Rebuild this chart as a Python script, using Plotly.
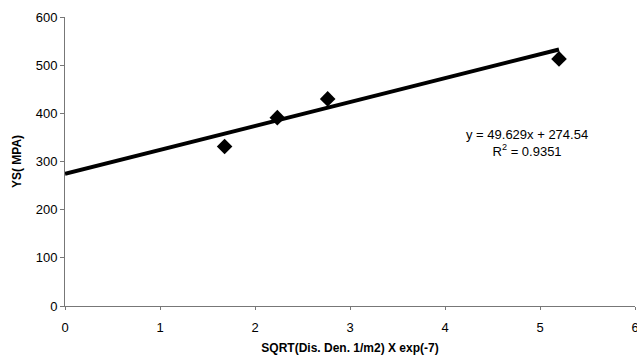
import plotly.graph_objects as go

x_vals = [1.68, 2.235, 2.765, 5.2]
y_vals = [331, 391, 430, 513]
slope = 49.629
intercept = 274.54
r2 = 0.9351
trend_x = [0, 5.2]
trend_y = [slope * v + intercept for v in trend_x]

x_ticks = [0, 1, 2, 3, 4, 5, 6]
y_ticks = [0, 100, 200, 300, 400, 500, 600]

fig = go.Figure()
fig.add_trace(go.Scatter(x=trend_x, y=trend_y, mode="lines",
                         line=dict(color="black", width=4), showlegend=False, cliponaxis=False))
fig.add_trace(go.Scatter(x=x_vals, y=y_vals, mode="markers",
                         marker=dict(symbol="diamond", size=12, color="black"),
                         showlegend=False, cliponaxis=False))

fig.add_annotation(x=4.86, y=338, xref="x", yref="y",
                   text=f"y = {slope}x + {intercept}<br>R<sup>2</sup> = {r2}",
                   showarrow=False, align="center",
                   font=dict(family="Liberation Sans, Arial", size=13, color="black"))

fig.update_layout(
    width=637, height=356,
    margin=dict(l=65, r=2, t=17, b=50),
    paper_bgcolor="white", plot_bgcolor="white",
    font=dict(family="Liberation Sans, Arial", color="black"),
    xaxis=dict(range=[0, 6], tickvals=x_ticks, showgrid=False, zeroline=False,
               automargin=False, ticklabeloverflow="allow", ticklabelstandoff=6,
               showline=True, linecolor="#777", linewidth=1,
               ticks="outside", ticklen=3, tickcolor="#777",
               tickfont=dict(size=13),
               title=dict(text="<b>SQRT(Dis. Den. 1/m2) X exp(-7)</b>", font=dict(size=12), standoff=10)),
    yaxis=dict(range=[0, 600], tickvals=y_ticks, showgrid=False, zeroline=False,
               automargin=False,
               showline=True, linecolor="#777", linewidth=1,
               ticks="outside", ticklen=4, tickcolor="#777",
               tickfont=dict(size=13),
               title=dict(text="<b>YS( MPA)</b>", font=dict(size=12), standoff=11)),
)

fig.write_html("out.html", config={"displayModeBar": False},
               post_script="document.body.style.margin='0';document.body.style.overflow='hidden';")
